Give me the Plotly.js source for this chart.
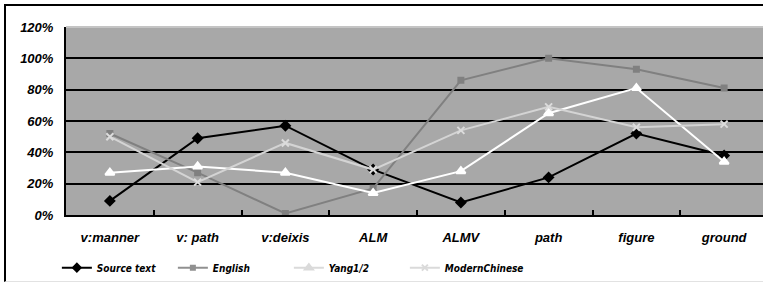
<!DOCTYPE html>
<html>
<head>
<meta charset="utf-8">
<script src="https://cdn.plot.ly/plotly-3.0.1.min.js"></script>
<style>
  html, body { margin: 0; padding: 0; width: 763px; height: 283px; overflow: hidden; background: #fff; }
  #wrap { position: relative; width: 763px; height: 283px; }
  #chart { position: absolute; left: 0; top: 0; }
  #frame { position: absolute; left: 4px; top: 4px; width: 770px; height: 275px;
           border-top: 2px solid #000; border-left: 2px solid #000; border-bottom: 1px solid #e2e2e2;
           pointer-events: none; }
</style>
</head>
<body>
<div id="wrap"><div id="chart"></div><div id="frame"></div></div>
<script>
const categories = ["v:manner", "v: path", "v:deixis", "ALM", "ALMV", "path", "figure", "ground"];
const seriesNames = ["Source text", "English", "Yang1/2", "ModernChinese"];
const sourceText    = [9, 49, 57, 29, 8, 24, 52, 38];
const english       = [52, 27, 1, 17, 86, 100, 93, 81];
const yang          = [27, 31, 27, 14, 28, 65, 81, 34];
const modernChinese = [50, 21, 46, 29, 54, 69, 56, 58];
const yTickVals = [0, 20, 40, 60, 80, 100, 120];
const yTickText = ["0%", "20%", "40%", "60%", "80%", "100%", "120%"];

const styles = [
  {color: "#000000", symbol: "diamond", size: 7, mcolor: "#000000"},
  {color: "#808080", symbol: "square", size: 5, mcolor: "#808080"},
  {color: "#ffffff", symbol: "triangle-up", size: 8, mcolor: "#ffffff"},
  {color: "#d4d4d4", symbol: "x-thin-open", size: 7, mcolor: "#dcdcdc"}
];
const legendLineColors = ["#000000", "#909090", "#dadada", "#dadada"];
const values = [sourceText, english, yang, modernChinese];

const traces = values.map((v, i) => ({
  type: "scatter", mode: "lines+markers", name: "<b><i>" + seriesNames[i] + "</i></b>",
  x: categories, y: v,
  line: {color: styles[i].color, width: 2},
  marker: {symbol: styles[i].symbol, size: styles[i].size, color: styles[i].mcolor,
           line: {color: styles[i].mcolor, width: 2}},
  showlegend: false
}));
// legend entries (same series, drawn only in the legend with the muted legend colours)
values.forEach((v, i) => traces.push({
  type: "scatter", mode: "lines+markers", name: "<b><i>" + seriesNames[i] + "</i></b>",
  x: [null], y: [null], showlegend: true,
  line: {color: legendLineColors[i], width: 2},
  marker: {symbol: styles[i].symbol, size: styles[i].size - 1, color: legendLineColors[i],
           line: {color: legendLineColors[i], width: 2}}
}));
// spacer entry so the last legend label is not clipped
traces.push({type: "scatter", mode: "lines", name: " ", x: [null], y: [null], showlegend: true,
  line: {color: "rgba(0,0,0,0)", width: 0}});

const W = 775;
const layout = {
  width: W, height: 283,
  margin: {l: 66, r: W - 768, t: 27, b: 68, autoexpand: false},
  paper_bgcolor: "#ffffff",
  plot_bgcolor: "#a8a8a8",
  showlegend: true,
  legend: {
    orientation: "h", x: -0.013, xanchor: "left", y: -0.28, yanchor: "middle",
    entrywidth: 71, entrywidthmode: "pixels",
    font: {family: "DejaVu Sans Condensed, Liberation Sans, Arial", size: 10, color: "#000"},
    bgcolor: "rgba(0,0,0,0)"
  },
  font: {family: "Liberation Sans, Arial", color: "#000"},
  xaxis: {
    type: "category", tickvals: categories, automargin: false,
    ticktext: categories.map(c => "<b><i>" + c + "</i></b>"),
    showgrid: false, showline: true, linecolor: "#000", linewidth: 2,
    ticks: "inside", tickson: "boundaries", ticklen: 5, tickcolor: "#000", tickwidth: 2,
    ticklabelstandoff: 9,
    tickfont: {family: "Liberation Sans, Arial", size: 13, color: "#000"},
    range: [-0.5, 7.5], fixedrange: true
  },
  yaxis: {
    range: [0, 120], tickvals: yTickVals, automargin: false,
    ticktext: yTickText.map(t => "<b><i>" + t + "</i></b>"),
    showgrid: true, gridcolor: "#000", gridwidth: 2,
    zeroline: false, showline: true, linecolor: "#000", linewidth: 2,
    ticks: "", ticklen: 0, ticklabelstandoff: 8,
    tickfont: {family: "Liberation Sans, Arial", size: 13, color: "#000"},
    fixedrange: true
  },
  shapes: [
    {type: "line", xref: "paper", yref: "paper", x0: 0, x1: 1, y0: 1, y1: 1,
     line: {color: "#c4c4c4", width: 2}, layer: "above"}
  ]
};

Plotly.newPlot("chart", traces, layout, {displayModeBar: false, staticPlot: true});
</script>
</body>
</html>
